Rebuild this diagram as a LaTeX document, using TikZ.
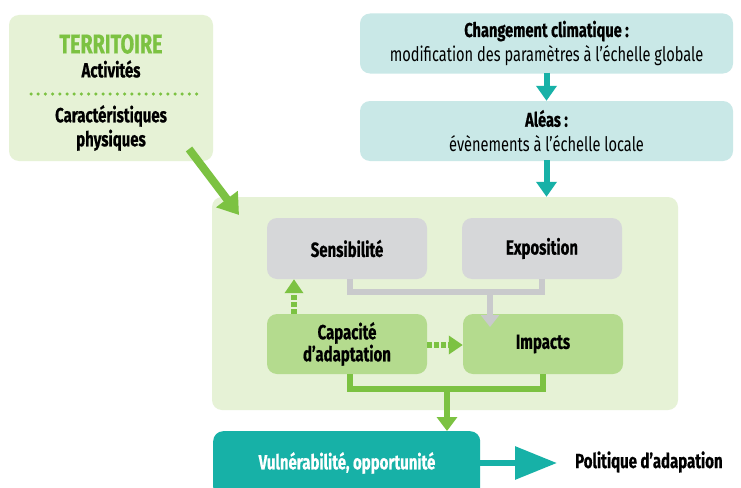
\documentclass[tikz,border=0pt]{standalone}
\usepackage{fontspec}
\setmainfont{Fira Sans}[FakeStretch=0.73, BoldFeatures={FakeBold=0.6}]
\usetikzlibrary{arrows.meta}
\definecolor{lgreen}{HTML}{E6F2D6}
\definecolor{tgreen}{HTML}{7CC242}
\definecolor{mgreen}{HTML}{B4DB8E}
\definecolor{lteal}{HTML}{C9E8E7}
\definecolor{dteal}{HTML}{17B1A7}
\definecolor{lgray}{HTML}{D6D7D9}
\definecolor{cgray}{HTML}{C9CACC}
\tikzset{
  box/.style={rounded corners=10pt, inner sep=0pt, align=center, font=\fontsize{20.5}{22}\selectfont\bfseries},
  tealbox/.style={box, fill=lteal, minimum width=373pt, minimum height=60pt},
  graybox/.style={box, fill=lgray, minimum width=160pt, minimum height=61pt},
  greenbox/.style={box, fill=mgreen, minimum width=160pt, minimum height=60pt},
  lbl/.style={font=\fontsize{20.5}{24}\selectfont\bfseries, inner sep=0pt, align=center},
  tealarrow/.style={draw=dteal, line width=6pt, -{Triangle[length=15pt,width=20pt]}},
  grayline/.style={draw=cgray, line width=6pt},
  greenline/.style={draw=tgreen, line width=6pt},
  dgarrow/.style={draw=tgreen, line width=6pt, dash pattern=on 5pt off 2pt, -{Triangle[length=14pt,width=18pt]}},
}
\begin{document}
\begin{tikzpicture}[x=1pt,y=-1pt]
\useasboundingbox (0,0) rectangle (741,487);
\clip (0,0) rectangle (741,487);
\fill[white] (0,0) rectangle (741,487);
% territoire
\node[box, fill=lgreen, minimum width=204pt, minimum height=146pt] (terr) at (111,88) {};
\node[lbl, font=\fontsize{27}{28}\selectfont\bfseries, text=tgreen] (terrt) at (111,44) {TERRITOIRE};
\node[lbl] (act) at (111,69) {Activités};
\node[lbl] (car) at (111,128) {Caractéristiques\\physiques};
\coordinate (d1) at (31,94);
\coordinate (d2) at (200,94);
\draw[tgreen, line width=3.5pt, line cap=round, dash pattern=on 0pt off 7.2pt] (d1) -- (d2);
% climate
\node[tealbox, font=\fontsize{20}{25}\selectfont] (cc) at (546.5,43.5) {\textbf{Changement climatique :}\\modification des paramètres à l’échelle globale};
\node[tealbox, font=\fontsize{20}{25}\selectfont] (al) at (546.5,131) {\textbf{Aléas :}\\évènements à l’échelle locale};
% main box
\node[box, fill=lgreen, minimum width=466pt, minimum height=213pt] (main) at (445,303.5) {};
\node[graybox] (sens) at (347,248.5) {Sensibilité};
\node[graybox] (expo) at (542,248.5) {Exposition};
\node[greenbox] (cap) at (347,344) {Capacité\\d’adaptation};
\node[greenbox] (imp) at (543,344) {Impacts};
% vulnerability
\node[box, fill=dteal, minimum width=267pt, minimum height=66pt, anchor=north west] (vul) at (213,431) {};
\node[lbl, text=white] (vult) at (347,463) {Vulnérabilité, opportunité};
\node[lbl, anchor=west] (pol) at (575,462) {Politique d’adapation};
% arrows
\draw[tealarrow] (cc.south) ++(0,-1) -- (al.north);
\draw[tealarrow] (al.south) ++(0,-1) -- (al.south |- main.north);
\draw[draw=tgreen, line width=8pt, -{Triangle[length=20pt,width=26pt]}] (189,149) -- (239,215);
\coordinate (gj) at (490,292);
\draw[grayline] (sens.south) ++(3,0) |- (gj) -| (expo.south);
\draw[grayline, -{Triangle[length=12pt,width=18pt]}] (gj) -- (490,327);
\draw[dgarrow] ([xshift=-53pt]cap.north) -- ([xshift=-53pt]sens.south);
\draw[dgarrow] ([yshift=-1pt]cap.east) -- ([yshift=-1pt]imp.west);
\coordinate (gk) at (447,389);
\draw[greenline] (cap.south) ++(3,0) |- (gk) -| (imp.south);
\draw[greenline, -{Triangle[length=14pt,width=20pt]}] (gk) -- (vul.north -| gk);
\draw[tealarrow, -{Triangle[length=42pt,width=32pt]}] (vul.east |- vult) -- (557,463);
\end{tikzpicture}
\end{document}
